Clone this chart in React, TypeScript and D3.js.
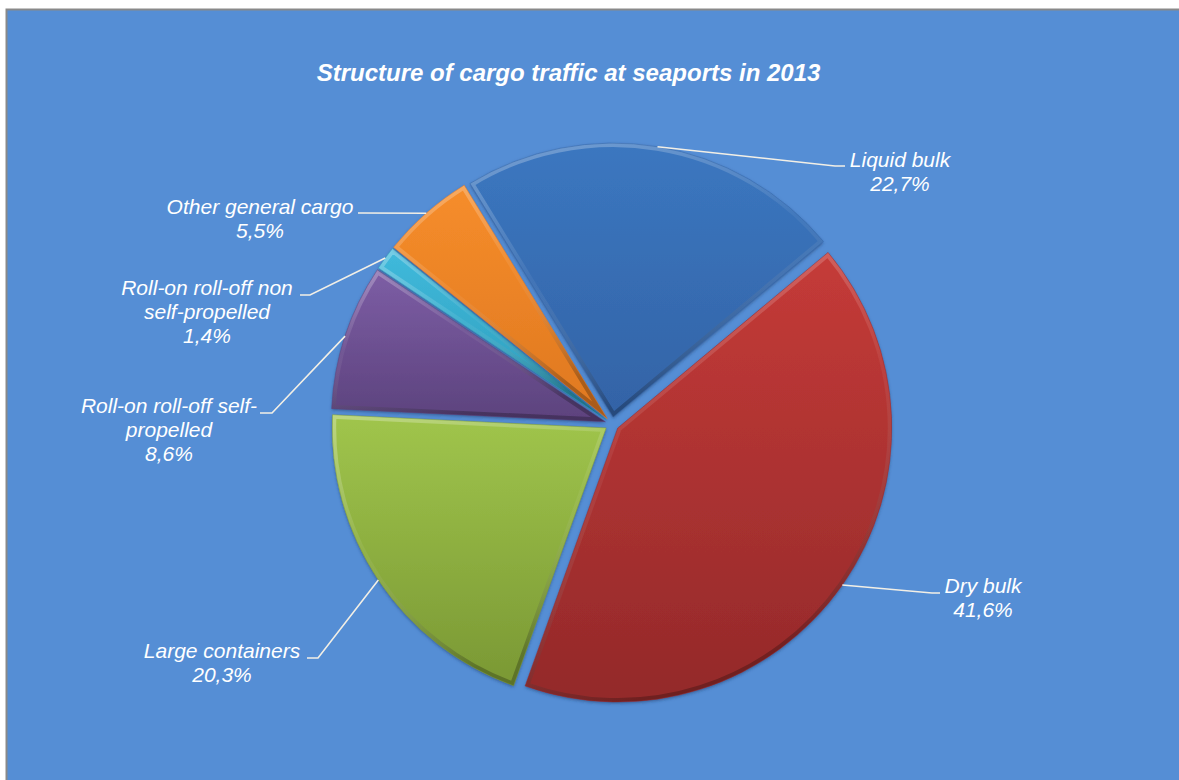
import React, { useEffect } from 'react';
import * as d3 from 'd3';

// ---- data ----
const categories = [
  'Liquid bulk',
  'Dry bulk',
  'Large containers',
  'Roll-on roll-off self-propelled',
  'Roll-on roll-off non self-propelled',
  'Other general cargo',
];
const values = [22.7, 41.6, 20.3, 8.6, 1.4, 5.5];
const valueLabels = ['22,7%', '41,6%', '20,3%', '8,6%', '1,4%', '5,5%'];
const labelLines = [
  ['Liquid bulk'],
  ['Dry bulk'],
  ['Large containers'],
  ['Roll-on roll-off self-', 'propelled'],
  ['Roll-on roll-off non', 'self-propelled'],
  ['Other general cargo'],
];
const title = 'Structure of cargo traffic at seaports in 2013';

// ---- styles / layout ----
const colorsTop = ['#3B77C0', '#C53B38', '#A0C54C', '#7D5EA5', '#40BADC', '#F68D2B'];
const colorsBottom = ['#3363A6', '#93292A', '#7A9834', '#5C427D', '#2C9AB8', '#DF7820'];
const W = 1179;
const H = 780;
const CX = 612;
const CY = 424;
const R = 274;
const EXPLODE = 7;
const START_DEG = -31.5;
const FONT = '"Liberation Sans", Arial, sans-serif';
const LABEL_SIZE = 21;
const LINE_H = 24;
// per label: [elbowX, elbowY, endX, textCenterX, firstBaseline]
const labelLayout: [number, number, number, number, number][] = [
  [835, 166, 845, 900, 167],
  [932, 593, 940, 983, 593],
  [318, 658, 307, 222, 658],
  [272, 413, 260, 169, 413],
  [310, 295, 300, 207, 295],
  [362, 213, 358, 260, 214],
];

export default function App() {
  useEffect(() => {
    document.body.style.margin = '0';
    document.body.style.overflow = 'hidden';
  }, []);

  const rad = (START_DEG * Math.PI) / 180;
  const pie = d3
    .pie<number>()
    .sort(null)
    .startAngle(rad)
    .endAngle(rad + 2 * Math.PI);
  const arcs = pie(values);
  const arcGen = d3.arc<d3.PieArcDatum<number>>().innerRadius(0).outerRadius(R);

  return (
    <svg width={W} height={H} style={{ display: 'block' }}>
      <defs>
        {arcs.map((a, i) => (
          <linearGradient key={'g' + i} id={'fill' + i} x1="0" y1="0" x2="0" y2="1">
            <stop offset="0%" stopColor={colorsTop[i]} />
            <stop offset="100%" stopColor={colorsBottom[i]} />
          </linearGradient>
        ))}
        <linearGradient id="bevel" x1="0" y1="0" x2="0.3" y2="1">
          <stop offset="0%" stopColor="#ffffff" stopOpacity={0.3} />
          <stop offset="50%" stopColor="#ffffff" stopOpacity={0.05} />
          <stop offset="100%" stopColor="#000000" stopOpacity={0.25} />
        </linearGradient>
        {arcs.map((a, i) => (
          <clipPath key={'c' + i} id={'clip' + i}>
            <path d={arcGen(a) || ''} />
          </clipPath>
        ))}
        <filter id="shadow" x="-20%" y="-20%" width="140%" height="140%">
          <feDropShadow dx="0" dy="1.5" stdDeviation="1.5" floodColor="#1b3a66" floodOpacity="0.55" />
        </filter>
      </defs>
      <rect x={0} y={0} width={W} height={H} fill="#ffffff" />
      <rect x={6.5} y={9.5} width={W + 10} height={H + 10} fill="#558ED5" stroke="#898989" strokeWidth={2} />
      <text
        x={568.5}
        y={81}
        textAnchor="middle"
        fill="#ffffff"
        fontFamily={FONT}
        fontSize={24}
        fontWeight="bold"
        fontStyle="italic"
      >
        {title}
      </text>
      <g transform={`translate(${CX},${CY})`}>
        {arcs.map((a, i) => {
          const mid = (a.startAngle + a.endAngle) / 2;
          const dx = Math.sin(mid) * EXPLODE;
          const dy = -Math.cos(mid) * EXPLODE;
          const d = arcGen(a) || '';
          return (
            <g key={categories[i]} transform={`translate(${dx},${dy})`}>
              <path d={d} fill={'url(#fill' + i + ')'} filter="url(#shadow)" />
              <path
                d={d}
                fill="none"
                stroke="url(#bevel)"
                strokeWidth={8}
                clipPath={'url(#clip' + i + ')'}
                strokeLinejoin="round"
              />
              <path d={d} fill="none" stroke={colorsBottom[i]} strokeOpacity={0.6} strokeWidth={0.8} />
            </g>
          );
        })}
      </g>
      {arcs.map((a, i) => {
        const mid = (a.startAngle + a.endAngle) / 2;
        const sx = CX + Math.sin(mid) * (R + EXPLODE);
        const sy = CY - Math.cos(mid) * (R + EXPLODE);
        const [ex, ey, endX, tx, by] = labelLayout[i];
        const lines = [...labelLines[i], valueLabels[i]];
        return (
          <g key={'lab' + i}>
            <polyline
              points={`${sx},${sy} ${ex},${ey} ${endX},${ey}`}
              fill="none"
              stroke="#F2EFE6"
              strokeWidth={1.6}
            />
            <text
              textAnchor="middle"
              fill="#ffffff"
              fontFamily={FONT}
              fontSize={LABEL_SIZE}
              fontStyle="italic"
            >
              {lines.map((ln, j) => (
                <tspan key={j} x={tx} y={by + j * LINE_H}>
                  {ln}
                </tspan>
              ))}
            </text>
          </g>
        );
      })}
    </svg>
  );
}
